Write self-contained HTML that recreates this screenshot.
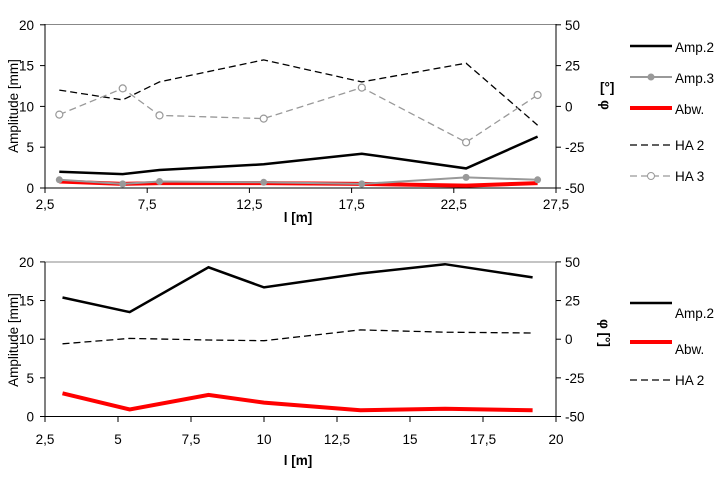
<!DOCTYPE html>
<html><head><meta charset="utf-8"><style>
body{margin:0;background:#fff;width:720px;height:480px;overflow:hidden}
svg text{font-family:"Liberation Sans",Arial,sans-serif;font-size:13.5px;fill:#000}
</style></head><body>
<svg id="s" width="720" height="480" xmlns="http://www.w3.org/2000/svg">
<text x="14" y="106" transform="rotate(-90 14 106)" text-anchor="middle" dy="4">Amplitude [mm]</text>
<text x="14" y="340" transform="rotate(-90 14 340)" text-anchor="middle" dy="4">Amplitude [mm]</text>
<text x="298" y="222" text-anchor="middle" font-weight="bold">l [m]</text>
<text x="298" y="465" text-anchor="middle" font-weight="bold">l [m]</text>
<text x="600" y="92" font-weight="bold">[°]</text>
<text x="605" y="105" transform="rotate(90 605 105)" font-weight="bold" text-anchor="middle" dy="4">φ</text>
<text x="604" y="333" transform="rotate(90 604 333)" font-weight="bold" text-anchor="middle" dy="4">φ [°]</text>
</svg>
<script>
const s=document.getElementById('s');let h='';
function L(pts,st){h+=`<polyline points="${pts.map(p=>p.join(',')).join(' ')}" fill="none" ${st}/>`;}
function T(x,y,t,a){h+=`<text x="${x}" y="${y}" text-anchor="${a||'start'}">${t}</text>`;}
let X1=v=>45+(v-2.5)*20.44,Y1=a=>188-a*8.16,D1=d=>Y1((d+50)/5);
h+=`<line x1="45" y1="24.5" x2="556" y2="24.5" stroke="#888"/>`;
h+=`<line x1="45" y1="24" x2="45" y2="188" stroke="#000"/><line x1="556" y1="24" x2="556" y2="188" stroke="#000"/><line x1="45" y1="188" x2="556" y2="188" stroke="#000"/>`;
[0,5,10,15,20].forEach(v=>{h+=`<line x1="40" x2="45" y1="${Y1(v)}" y2="${Y1(v)}" stroke="#000"/>`;T(34,Y1(v)+5,v,'end');});
[-50,-25,0,25,50].forEach(v=>{h+=`<line x1="556" x2="561" y1="${D1(v)}" y2="${D1(v)}" stroke="#000"/>`;T(565,D1(v)+5,v);});
[2.5,7.5,12.5,17.5,22.5,27.5].forEach(v=>{h+=`<line x1="${X1(v)}" x2="${X1(v)}" y1="188" y2="193" stroke="#000"/>`;T(X1(v),209,String(v).replace('.',','),'middle');});
let xs=[3.2,6.3,8.1,13.2,18.0,23.1,26.6];
const P=(ys,f)=>xs.map((x,i)=>[X1(x).toFixed(1),f(ys[i]).toFixed(1)]);
L(P([10,4,15,28.5,15,26.5,-11.5],D1),'stroke="#000" stroke-width="1.3" stroke-dasharray="7,4"');
let h3=P([-5,11,-5.5,-7.5,11.5,-22,7],D1);
L(h3,'stroke="#999" stroke-width="1.3" stroke-dasharray="7,4"');
h3.forEach(p=>h+=`<circle cx="${p[0]}" cy="${p[1]}" r="3.5" fill="#fff" stroke="#999" stroke-width="1.2"/>`);
L(P([2.0,1.7,2.2,2.9,4.2,2.4,6.3],Y1),'stroke="#000" stroke-width="2.5"');
let a3=P([1.0,0.5,0.8,0.7,0.5,1.3,1.0],Y1);
L(P([0.8,0.5,0.6,0.6,0.5,0.3,0.6],Y1),'stroke="#f00" stroke-width="4"');
L(a3,'stroke="#999" stroke-width="2"');
a3.forEach(p=>h+=`<circle cx="${p[0]}" cy="${p[1]}" r="3.5" fill="#999"/>`);
h+=`<line x1="630" x2="672" y1="46" y2="46" stroke="#000" stroke-width="2.5"/>`;T(675,52,'Amp.2');
h+=`<line x1="630" x2="672" y1="77" y2="77" stroke="#999" stroke-width="2"/><circle cx="651" cy="77" r="3.5" fill="#999"/>`;T(675,83,'Amp.3');
h+=`<line x1="630" x2="672" y1="108" y2="108" stroke="#f00" stroke-width="4"/>`;T(675,114,'Abw.');
h+=`<line x1="630" x2="672" y1="145" y2="145" stroke="#000" stroke-width="1.3" stroke-dasharray="7,4"/>`;T(675,150,'HA 2');
h+=`<line x1="630" x2="672" y1="176" y2="176" stroke="#999" stroke-width="1.3" stroke-dasharray="7,4"/><circle cx="651" cy="176" r="3.5" fill="#fff" stroke="#999"/>`;T(675,181,'HA 3');
let X2=v=>45+(v-2.5)*29.2,Y2=a=>416.5-a*7.73,D2=d=>Y2((d+50)/5);
h+=`<line x1="45" y1="262" x2="556" y2="262" stroke="#888"/>`;
h+=`<line x1="45" y1="262" x2="45" y2="417" stroke="#000"/><line x1="556" y1="262" x2="556" y2="417" stroke="#000"/><line x1="45" y1="416.5" x2="556" y2="416.5" stroke="#000"/>`;
[0,5,10,15,20].forEach(v=>{h+=`<line x1="40" x2="45" y1="${Y2(v)}" y2="${Y2(v)}" stroke="#000"/>`;T(34,Y2(v)+5,v,'end');});
[-50,-25,0,25,50].forEach(v=>{h+=`<line x1="556" x2="561" y1="${D2(v)}" y2="${D2(v)}" stroke="#000"/>`;T(565,D2(v)+5,v);});
[2.5,5,7.5,10,12.5,15,17.5,20].forEach(v=>{h+=`<line x1="${X2(v)}" x2="${X2(v)}" y1="417" y2="422" stroke="#000"/>`;T(X2(v),444,String(v).replace('.',','),'middle');});
let xb=[3.1,5.4,8.1,10.0,13.3,16.2,19.2];
const Q=ys=>xb.map((x,i)=>[X2(x).toFixed(1),Y2(ys[i]).toFixed(1)]);
L(Q([9.4,10.1,9.9,9.8,11.2,10.9,10.8]),'stroke="#000" stroke-width="1.3" stroke-dasharray="7,4"');
L(Q([15.4,13.5,19.3,16.7,18.5,19.7,18.0]),'stroke="#000" stroke-width="2.5"');
L(Q([3.0,0.9,2.8,1.8,0.8,1.0,0.8]),'stroke="#f00" stroke-width="4"');
h+=`<line x1="630" x2="672" y1="303" y2="303" stroke="#000" stroke-width="2.5"/>`;T(675,318,'Amp.2');
h+=`<line x1="630" x2="672" y1="342" y2="342" stroke="#f00" stroke-width="4"/>`;T(675,354,'Abw.');
h+=`<line x1="630" x2="672" y1="380" y2="380" stroke="#000" stroke-width="1.3" stroke-dasharray="7,4"/>`;T(675,385,'HA 2');
s.insertAdjacentHTML('beforeend',h);
</script>
</body></html>
